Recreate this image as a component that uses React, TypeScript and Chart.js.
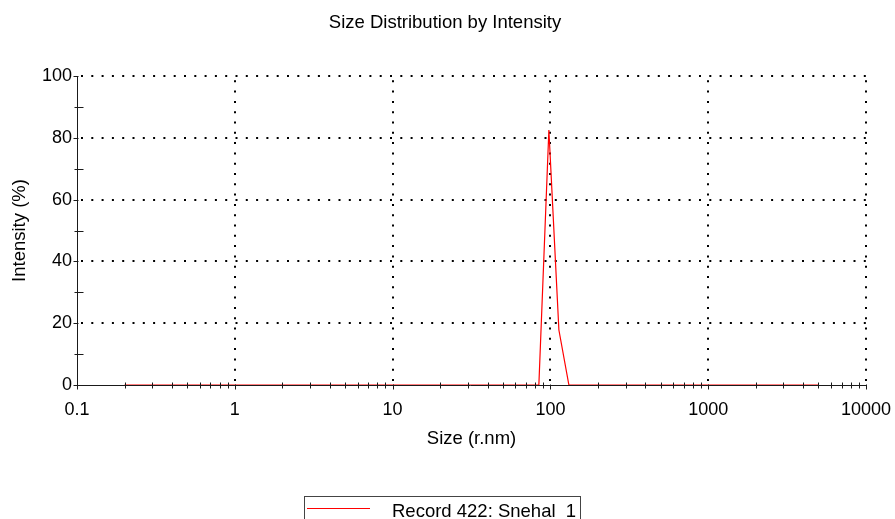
import { useEffect, useRef } from "react";
import { Chart, registerables } from "chart.js";

Chart.register(...registerables);

const chartTitle = "Size Distribution by Intensity";
const xAxisTitle = "Size (r.nm)";
const yAxisTitle = "Intensity (%)";
const seriesLabel = "Record 422: Snehal  1";

const sizes = [0.2, 84.5, 97.8, 113.2, 131, 5000];
const intensity = [0, 0, 82.5, 17.8, 0, 0];

const xTickValues = [0.1, 1, 10, 100, 1000, 10000];
const xTickLabels = ["0.1", "1", "10", "100", "1000", "10000"];
const yTickValues = [0, 20, 40, 60, 80, 100];
const yTickLabels = ["0", "20", "40", "60", "80", "100"];
const yMinorValues = [10, 30, 50, 70, 90];

const FONT = "'Liberation Sans', Arial, Helvetica, sans-serif";
const LINE_COLOR = "rgb(255,0,0)";
const AXIS_COLOR = "#1a1a1a";

const decor = {
  id: "decor",
  beforeDatasetsDraw(chart: any) {
    const { ctx, chartArea: a, scales } = chart;
    const x = scales.x;
    const y = scales.y;
    ctx.save();
    ctx.strokeStyle = "#000";
    ctx.lineWidth = 2;
    ctx.setLineDash([2, 8.3]);
    for (const v of xTickValues.slice(1)) {
      const px = Math.round(x.getPixelForValue(v));
      ctx.beginPath();
      ctx.moveTo(px, a.bottom - 4);
      ctx.lineTo(px, a.top);
      ctx.stroke();
    }
    for (const v of yTickValues.slice(1)) {
      const py = Math.round(y.getPixelForValue(v));
      ctx.beginPath();
      ctx.moveTo(a.left + 4, py);
      ctx.lineTo(a.right, py);
      ctx.stroke();
    }
    ctx.setLineDash([]);
    ctx.strokeStyle = AXIS_COLOR;
    ctx.lineWidth = 1;
    const lx = Math.round(a.left) + 0.5;
    const by = Math.round(a.bottom) + 0.5;
    ctx.beginPath();
    ctx.moveTo(lx, Math.round(a.top));
    ctx.lineTo(lx, by + 2);
    ctx.moveTo(lx - 3, by);
    ctx.lineTo(Math.round(a.right) + 1, by);
    ctx.stroke();
    ctx.restore();
  },
  afterDatasetsDraw(chart: any) {
    const { ctx, chartArea: a, scales } = chart;
    const x = scales.x;
    const y = scales.y;
    ctx.save();
    ctx.strokeStyle = AXIS_COLOR;
    ctx.lineWidth = 1;
    const lx = Math.round(a.left) + 0.5;
    const by = Math.round(a.bottom) + 0.5;
    ctx.beginPath();
    for (const v of xTickValues) {
      const px = Math.round(x.getPixelForValue(v)) + 0.5;
      ctx.moveTo(px, by - 1);
      ctx.lineTo(px, by + 4);
    }
    for (let i = 0; i < xTickValues.length - 1; i++) {
      for (let m = 2; m <= 9; m++) {
        const px = Math.round(x.getPixelForValue(xTickValues[i] * m)) + 0.5;
        ctx.moveTo(px, by - 3);
        ctx.lineTo(px, by + 3);
      }
    }
    for (const v of yTickValues) {
      const py = Math.round(y.getPixelForValue(v)) + 0.5;
      ctx.moveTo(lx - 4, py);
      ctx.lineTo(lx + 1, py);
    }
    for (const v of yMinorValues) {
      const py = Math.round(y.getPixelForValue(v)) + 0.5;
      ctx.moveTo(lx - 3, py);
      ctx.lineTo(lx + 6, py);
    }
    ctx.stroke();
    ctx.restore();
  },
  afterDraw(chart: any) {
    const { ctx } = chart;
    ctx.save();
    ctx.fillStyle = "#000";
    ctx.font = `18.5px ${FONT}`;
    ctx.textAlign = "center";
    ctx.textBaseline = "alphabetic";
    ctx.fillText(chartTitle, 445, 28.3);
    ctx.strokeStyle = "#444";
    ctx.lineWidth = 1;
    ctx.strokeRect(304.5, 496.5, 276, 40);
    ctx.strokeStyle = LINE_COLOR;
    ctx.lineWidth = 1.2;
    ctx.beginPath();
    ctx.moveTo(307, 508.5);
    ctx.lineTo(370, 508.5);
    ctx.stroke();
    ctx.fillStyle = "#000";
    ctx.font = `18.5px ${FONT}`;
    ctx.textAlign = "left";
    ctx.fillText(chart.data.datasets[0].label, 392, 517.3);
    ctx.restore();
  },
};

export default function App() {
  const ref = useRef<HTMLCanvasElement | null>(null);

  useEffect(() => {
    if (!ref.current) return;
    const chart = new Chart(ref.current, {
      type: "line",
      data: {
        datasets: [
          {
            label: seriesLabel,
            data: sizes.map((s, i) => ({ x: s, y: intensity[i] })),
            borderColor: LINE_COLOR,
            borderWidth: 1.2,
            pointRadius: 0,
            fill: false,
            tension: 0,
          },
        ],
      },
      options: {
        animation: false,
        responsive: false,
        devicePixelRatio: 1,
        layout: { padding: { top: 76, right: 29, bottom: 69, left: 0 } },
        plugins: {
          legend: { display: false },
          title: { display: false },
          tooltip: { enabled: false },
        },
        scales: {
          x: {
            type: "logarithmic",
            min: 0.1,
            max: 10000,
            afterBuildTicks: (s: any) => {
              s.ticks = xTickValues.map((v) => ({ value: v }));
            },
            afterFit: (s: any) => {
              s.height = 65;
              s.paddingLeft = 0;
              s.paddingRight = 0;
            },
            grid: { display: false, drawTicks: false },
            border: { display: false },
            ticks: {
              autoSkip: false,
              maxRotation: 0,
              minRotation: 0,
              padding: 14,
              color: "#000",
              font: { family: FONT, size: 18 },
              callback: (_v: any, i: number) => xTickLabels[i],
            },
            title: {
              display: true,
              text: xAxisTitle,
              color: "#000",
              font: { family: FONT, size: 18.5 },
              padding: { top: 0, bottom: 0 },
            },
          },
          y: {
            type: "linear",
            min: 0,
            max: 100,
            afterBuildTicks: (s: any) => {
              s.ticks = yTickValues.map((v) => ({ value: v }));
            },
            afterFit: (s: any) => {
              s.width = 77;
              s.paddingTop = 0;
              s.paddingBottom = 0;
            },
            grid: { display: false, drawTicks: false },
            border: { display: false },
            ticks: {
              padding: 5,
              color: "#000",
              font: { family: FONT, size: 18 },
              callback: (_v: any, i: number) => yTickLabels[i],
            },
            title: {
              display: true,
              text: yAxisTitle,
              color: "#000",
              font: { family: FONT, size: 18.5 },
              padding: { top: 8.7, bottom: 0 },
            },
          },
        },
      },
      plugins: [decor],
    });
    return () => chart.destroy();
  }, []);

  return (
    <div style={{ position: "fixed", left: 0, top: 0, width: 895, height: 519, background: "#fff" }}>
      <canvas ref={ref} width={895} height={519} style={{ display: "block" }} />
    </div>
  );
}
